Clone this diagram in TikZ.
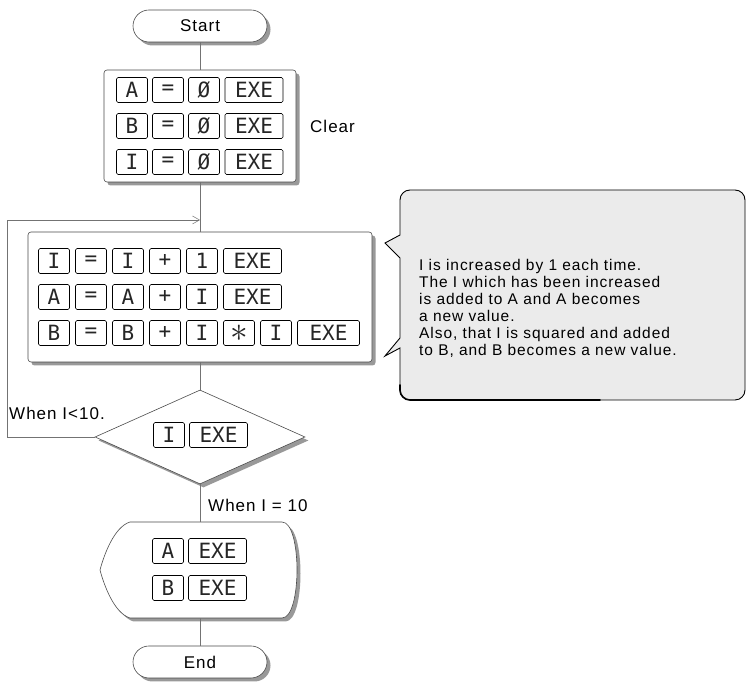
\documentclass[tikz,border=0pt]{standalone}
\usepackage{fontspec}
\setmainfont{Liberation Sans}[LetterSpace=6]
\newfontfamily\keyfont{DejaVu Sans Mono}
\usetikzlibrary{shapes.geometric,shadows,arrows.meta}

\begin{document}
\begin{tikzpicture}[x=1pt,y=1pt,
  box/.style={draw=drawColor,line width=0.6pt,fill=white,rounded corners=3pt,
    drop shadow={shadow xshift=3.5pt,shadow yshift=-3.5pt,fill=shadeColor,opacity=1}},
  term/.style={box,rounded corners=16pt,minimum width=134pt,minimum height=32pt,
    inner sep=0pt,font=\fontsize{17}{20}\selectfont},
  key/.style={draw=black,line width=0.6pt,rounded corners=1.5pt,minimum width=31pt,
    minimum height=25pt,inner sep=0pt,text=black!85,font=\keyfont\fontsize{21}{21}\selectfont},
  exe/.style={key,minimum width=58pt},
  flow/.style={draw=lineColor,line width=0.5pt},
  lbl/.style={anchor=west,inner sep=0pt,font=\fontsize{17}{20}\selectfont}]
\definecolor{fillColor}{RGB}{255,255,255}
\definecolor{drawColor}{gray}{0.30}
\definecolor{lineColor}{gray}{0.45}
\definecolor{shadeColor}{gray}{0.60}
\definecolor{noteColor}{gray}{0.92}
\path[use as bounding box,fill=fillColor] (0,0) rectangle (748,685);

% terminals and boxes
\node[term] (start) at (200,659) {Start};
\node[box,minimum width=192pt,minimum height=112pt] (clr) at (200,559) {};
\node[box,minimum width=344pt,minimum height=130pt] (proc) at (200,388) {};
\node[diamond,draw=drawColor,line width=0.6pt,fill=white,minimum width=210pt,
  minimum height=94pt,inner sep=0pt,
  drop shadow={shadow xshift=3.5pt,shadow yshift=-3.5pt,fill=shadeColor,opacity=1}] (dia) at (200,248) {};
\node[minimum width=200pt,minimum height=96pt,inner sep=0pt] (disp) at (200,115) {};
\path[box,sharp corners] (130,163) -- (282,163) .. controls (302,163) and (302,67) .. (282,67) --
	(130,67) .. controls (114,72) and (104,100) .. (100,115) .. controls (104,130) and (114,158) .. (130,163) -- cycle;
\node[term] (end) at (200,23) {End};

% clear keys
\node[key] (ca1) at (132,595) {A};
\node[key] (ca2) at (168,595) {=};
\node[key] (ca3) at (204,595) {Ø};
\node[exe] (ca4) at (254,595) {EXE};
\node[key] (cb1) at (132,559) {B};
\node[key] (cb2) at (168,559) {=};
\node[key] (cb3) at (204,559) {Ø};
\node[exe] (cb4) at (254,559) {EXE};
\node[key] (cc1) at (132,523) {I};
\node[key] (cc2) at (168,523) {=};
\node[key] (cc3) at (204,523) {Ø};
\node[exe] (cc4) at (254,523) {EXE};
\node[lbl] (clearlbl) at (310,559) {Clear};

% loop keys
\node[key] (pa1) at ( 54,424) {I};
\node[key] (pa2) at ( 91,424) {=};
\node[key] (pa3) at (128,424) {I};
\node[key] (pa4) at (165,424) {+};
\node[key] (pa5) at (202,424) {1};
\node[exe] (pa6) at (252.5,424) {EXE};
\node[key] (pb1) at ( 54,388) {A};
\node[key] (pb2) at ( 91,388) {=};
\node[key] (pb3) at (128,388) {A};
\node[key] (pb4) at (165,388) {+};
\node[key] (pb5) at (202,388) {I};
\node[exe] (pb6) at (252.5,388) {EXE};
\node[key] (pc1) at ( 54,352) {B};
\node[key] (pc2) at ( 91,352) {=};
\node[key] (pc3) at (128,352) {B};
\node[key] (pc4) at (165,352) {+};
\node[key] (pc5) at (202,352) {I};
\node[key] (pc6) at (239,352) {\scalebox{1.7}{$\ast$}};
\node[key] (pc7) at (276,352) {I};
\node[exe,minimum width=62pt] (pc8) at (328.5,352) {EXE};

% test keys
\node[key] (da1) at (169,250) {I};
\node[exe] (da2) at (218.5,250) {EXE};
\node[lbl] (ltlbl) at (9,272) {When I<10.};
\node[lbl] (eqlbl) at (208,180) {When I = 10};

% output keys
\node[key] (oa1) at (168,134) {A};
\node[exe] (oa2) at (217.5,134) {EXE};
\node[key] (ob1) at (168,97) {B};
\node[exe] (ob2) at (217.5,97) {EXE};

% connectors
\coordinate (loopin) at (200,465);
\draw[flow] (start) -- (clr);
\draw[flow] (clr) -- (proc);
\draw[flow] (proc) -- (dia);
\draw[flow] (dia) -- (disp);
\draw[flow] (disp) -- (end);
\draw[flow,-{Straight Barb[length=7pt,width=8pt]}] (dia.west) -- (7,248) |- (loopin);

% note
\path[draw=black,line width=0.9pt,fill=noteColor] (400,450) -- (400,485) arc[start angle=180,end angle=90,radius=10] --
	(735,495) arc[start angle=90,end angle=0,radius=10] --
	(745,295) arc[start angle=0,end angle=-90,radius=10] --
	(410,285) arc[start angle=270,end angle=180,radius=10] --
	(400,337) -- (385,329) -- (400,347) -- (400,427) -- (385,442) -- cycle;
\path[draw=black,line width=1.6pt,line cap=round] (400,300) -- (400,295) arc[start angle=180,end angle=270,radius=10] -- (600,285);
\node[anchor=north west,align=left,inner sep=0pt,font=\fontsize{15.5}{17}\selectfont] (note) at (419,426)
	{I is increased by 1 each time.\\The I which has been increased\\is added to A and A becomes\\a new value.\\Also, that I is squared and added\\to B, and B becomes a new value.};
\end{tikzpicture}
\end{document}
